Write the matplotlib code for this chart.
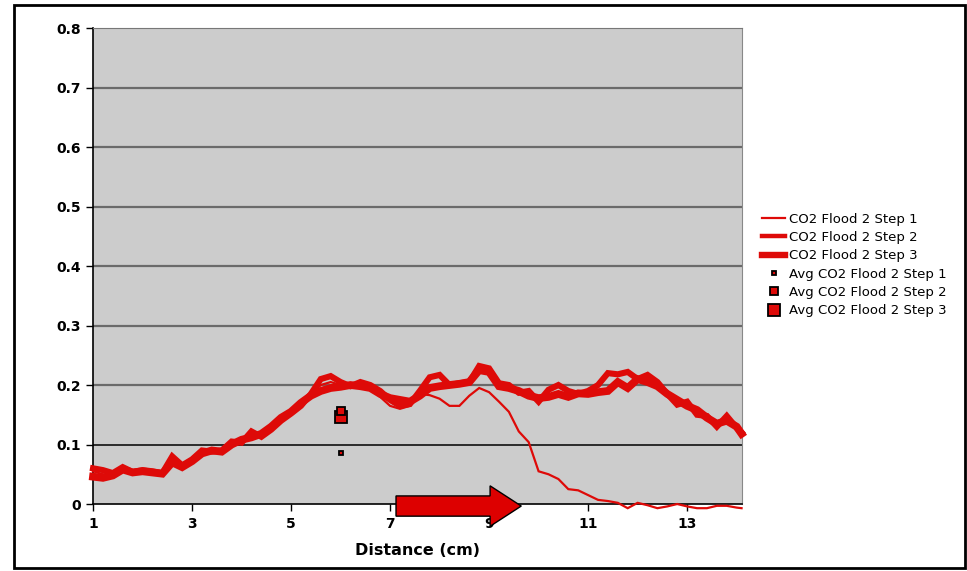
"""CO2 flood saturation profiles along the core (step 1-3 plus averages)."""

import numpy as np
import matplotlib

matplotlib.use("Agg")
import matplotlib.pyplot as plt
from matplotlib.patches import FancyArrow, Rectangle
from matplotlib.lines import Line2D

# Distance along the core (cm)
distance = [1.0, 1.2, 1.4, 1.6, 1.8, 2.0, 2.2, 2.4, 2.6, 2.8,
            3.0, 3.2, 3.4, 3.6, 3.8, 4.0, 4.2, 4.4, 4.6, 4.8,
            5.0, 5.2, 5.4, 5.6, 5.8, 6.0, 6.2, 6.4, 6.6, 6.8,
            7.0, 7.2, 7.4, 7.6, 7.8, 8.0, 8.2, 8.4, 8.6, 8.8,
            9.0, 9.2, 9.4, 9.6, 9.8, 10.0, 10.2, 10.4, 10.6, 10.8,
            11.0, 11.2, 11.4, 11.6, 11.8, 12.0, 12.2, 12.4, 12.6, 12.8,
            13.0, 13.2, 13.4, 13.6, 13.8, 14.0, 14.1]

step1 = [0.055, 0.050, 0.050, 0.060, 0.055, 0.056, 0.054, 0.052, 0.075, 0.064,
         0.074, 0.088, 0.089, 0.089, 0.103, 0.105, 0.117, 0.115, 0.128, 0.142,
         0.153, 0.167, 0.183, 0.200, 0.205, 0.200, 0.198, 0.200, 0.195, 0.180,
         0.165, 0.160, 0.165, 0.185, 0.183, 0.177, 0.165, 0.165, 0.182, 0.195,
         0.188, 0.172, 0.155, 0.122, 0.104, 0.055, 0.050, 0.042, 0.025, 0.023,
         0.015, 0.007, 0.005, 0.002, -0.007, 0.002, -0.002, -0.007, -0.004, 0.000,
         -0.004, -0.007, -0.007, -0.003, -0.003, -0.006, -0.007]

step2 = [0.060, 0.057, 0.052, 0.062, 0.054, 0.057, 0.055, 0.052, 0.080, 0.065,
         0.075, 0.090, 0.088, 0.090, 0.105, 0.103, 0.122, 0.113, 0.125, 0.140,
         0.152, 0.165, 0.185, 0.210, 0.215, 0.205, 0.198, 0.205, 0.200, 0.190,
         0.175, 0.165, 0.168, 0.190, 0.213, 0.217, 0.200, 0.203, 0.205, 0.232,
         0.228, 0.203, 0.200, 0.187, 0.190, 0.172, 0.192, 0.200, 0.190, 0.185,
         0.190, 0.200, 0.220, 0.218, 0.222, 0.210, 0.217, 0.205, 0.185, 0.167,
         0.172, 0.150, 0.148, 0.130, 0.148, 0.128, 0.120]

step3 = [0.046, 0.044, 0.048, 0.058, 0.053, 0.055, 0.053, 0.051, 0.070, 0.062,
         0.072, 0.085, 0.090, 0.088, 0.100, 0.108, 0.112, 0.118, 0.130, 0.145,
         0.155, 0.170, 0.182, 0.190, 0.195, 0.197, 0.200, 0.198, 0.195, 0.185,
         0.178, 0.175, 0.172, 0.182, 0.195, 0.198, 0.200, 0.202, 0.205, 0.225,
         0.222, 0.198, 0.195, 0.190, 0.182, 0.178, 0.180, 0.185, 0.180, 0.186,
         0.185, 0.188, 0.190, 0.205, 0.195, 0.210, 0.205, 0.198, 0.185, 0.175,
         0.165, 0.158, 0.145, 0.135, 0.140, 0.130, 0.118]

# Average saturation per step, plotted at the core midpoint
avg_x = 6.0
avg_values = [0.086, 0.157, 0.146]

labels = ["CO2 Flood 2 Step 1", "CO2 Flood 2 Step 2", "CO2 Flood 2 Step 3"]
avg_labels = ["Avg " + s for s in labels]

x_ticks = [1, 3, 5, 7, 9, 11, 13]
y_ticks = [0, 0.1, 0.2, 0.3, 0.4, 0.5, 0.6, 0.7, 0.8]

RED = "#de0a08"
line_widths = [1.6, 4.4, 5.6]
legend_widths = [1.6, 3.2, 4.6]
marker_sizes = [3.0, 6.0, 8.0]

fig = plt.figure(figsize=(9.67, 5.71), dpi=100, facecolor="white")
ax = fig.add_axes([0.0962, 0.1173, 0.6712, 0.8336], facecolor="#cccccc")

# Outer chart border
fig.patches.append(Rectangle((14 / 967, 3 / 571), 951 / 967, 563 / 571,
                             transform=fig.transFigure, fill=False,
                             edgecolor="black", linewidth=2.0))

# Profiles
for series, label, lw in zip([step1, step2, step3], labels, line_widths):
    ax.plot(distance, series, color=RED, linewidth=lw, label=label,
            solid_joinstyle="miter", clip_on=False, zorder=3)

# Averages (draw largest first so small ones stay visible)
for val, label, ms in reversed(list(zip(avg_values, avg_labels, marker_sizes))):
    ax.plot([avg_x], [val], linestyle="none", marker="s", markersize=ms,
            markerfacecolor=RED, markeredgecolor="black", markeredgewidth=1.3,
            label=label, zorder=4)

# Flow direction arrow
arrow = FancyArrow(7.12, -0.0034, 2.53, 0.0, width=0.034, head_width=0.068,
                   head_length=0.63, length_includes_head=True,
                   facecolor="#dd0000", edgecolor="black", linewidth=1.0,
                   clip_on=False, zorder=5)
ax.add_patch(arrow)

# Axes styling
ax.set_xlim(1, 14.11)
ax.set_ylim(0, 0.8)
ax.set_xticks(x_ticks)
ax.set_yticks(y_ticks)
ax.set_yticklabels(["0", "0.1", "0.2", "0.3", "0.4", "0.5", "0.6", "0.7", "0.8"])
ax.tick_params(axis="both", direction="out", length=5, width=1.0,
               labelsize=10, pad=4, colors="black")
for lbl in ax.get_xticklabels() + ax.get_yticklabels():
    lbl.set_fontweight("bold")

for y in y_ticks[2:-1]:
    ax.axhline(y, color="#6a6a6a", linewidth=1.6, zorder=1)
ax.axhline(0.1, color="black", linewidth=1.1, zorder=1)

ax.spines["left"].set_color("black")
ax.spines["bottom"].set_color("black")
ax.spines["top"].set_color("#777777")
ax.spines["right"].set_color("#888888")
for side in ["left", "bottom"]:
    ax.spines[side].set_linewidth(1.2)

ax.set_xlabel("Distance (cm)", fontsize=11.5, fontweight="bold", labelpad=9)

# Legend (custom handles so order matches the original chart)
handles = [Line2D([], [], color=RED, linewidth=lw) for lw in legend_widths]
handles += [Line2D([], [], linestyle="none", marker="s", markersize=ms,
                   markerfacecolor=RED, markeredgecolor="black",
                   markeredgewidth=1.3) for ms in marker_sizes]
leg = fig.legend(handles, labels + avg_labels, loc="center left",
                 bbox_to_anchor=(762 / 967, 1 - 265 / 571), frameon=False,
                 fontsize=9.5, handlelength=1.75, handletextpad=0.3,
                 labelspacing=0.4, borderpad=0, borderaxespad=0)

fig.savefig("out.png", dpi=100, facecolor=fig.get_facecolor())
